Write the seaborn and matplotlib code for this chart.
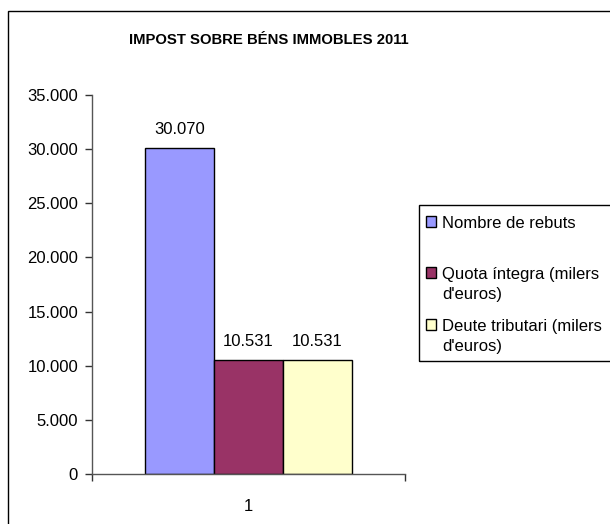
import pandas as pd
import matplotlib
matplotlib.use("Agg")
import matplotlib.pyplot as plt
import seaborn as sns
from matplotlib.patches import Rectangle
from matplotlib.ticker import FuncFormatter

# Data
categories = ['1']
series = ['Nombre de rebuts', "Quota íntegra (milers\nd'euros)", "Deute tributari (milers\nd'euros)"]
values = [30070, 10531, 10531]
colors = ['#9999FF', '#993366', '#FFFFCC']
title = 'IMPOST SOBRE BÉNS IMMOBLES 2011'

df = pd.DataFrame({'cat': categories * len(series), 'serie': series, 'valor': values})

sns.set_theme(style='white', rc={'text.color': 'black', 'xtick.color': 'black',
                                 'ytick.color': 'black', 'axes.labelcolor': 'black'})
plt.rcParams['font.family'] = ['Liberation Sans', 'DejaVu Sans']

fig = plt.figure(figsize=(6.1, 5.24), dpi=100)
ax = fig.add_axes([92 / 610, 1 - 474 / 524, 313 / 610, (474 - 95) / 524])

sns.barplot(data=df, x='cat', y='valor', hue='serie', palette=colors, width=0.66,
            saturation=1, edgecolor='black', linewidth=1, ax=ax, legend=True)

def miles(v, pos):
    return f'{int(v):,}'.replace(',', '.')

for cont in ax.containers:
    ax.bar_label(cont, labels=[miles(b.get_height(), None) for b in cont],
                 padding=8, fontsize=12)

ax.set_ylim(0, 35000)
ax.set_yticks(range(0, 35001, 5000))
ax.yaxis.set_major_formatter(FuncFormatter(miles))
ax.set_xlim(-0.5, 0.5)
ax.set_xticks([-0.5, 0.5], minor=False)
ax.set_xticklabels(['', ''])
ax.set_xticks([0], minor=True)
ax.set_xticklabels(categories, minor=True)
ax.tick_params(axis='x', which='minor', bottom=False, pad=14, labelsize=12)
ax.tick_params(axis='x', which='major', bottom=True, length=5, width=1, color='#333333',
               direction='out')
ax.tick_params(axis='y', left=True, length=5, width=1, color='#333333', direction='out',
               labelsize=12, pad=5)
ax.set_xlabel('')
ax.set_ylabel('')
for s in ['top', 'right']:
    ax.spines[s].set_visible(False)
for s in ['left', 'bottom']:
    ax.spines[s].set_color('#555555')
    ax.spines[s].set_linewidth(1)

handles, _ = ax.get_legend_handles_labels()
ax.get_legend().remove()
# first entry gets an empty second line, like the spacing in the original
leg_labels = [series[0] + '\n '] + series[1:]
leg = fig.legend(handles, leg_labels, loc='upper left',
                 bbox_to_anchor=(426 / 610, 1 - 216 / 524),
                 frameon=False, fontsize=12,
                 handlelength=0.6, handleheight=0.6, handletextpad=0.35,
                 labelspacing=1.0, borderpad=0, borderaxespad=0)
for t in leg.get_texts():
    t.set_linespacing(1.4)
# put each legend marker on the first line of its label
for col in leg._legend_handle_box.get_children():
    for item in col.get_children():
        item.align = 'top'

fig.patches.append(Rectangle((419 / 610, 1 - 361 / 524), 1.0, (361 - 205) / 524,
                             transform=fig.transFigure, fill=False,
                             edgecolor='black', linewidth=1))

fig.text(269 / 610, 1 - 40 / 524, title, ha='center', va='center',
         fontsize=10.7, fontweight='bold')

fig.patches.append(Rectangle((8 / 610, -0.1), 1.5, 1.1 - 11 / 524, transform=fig.transFigure,
                             fill=False, edgecolor='black', linewidth=1))

fig.savefig('out.png', dpi=100)
